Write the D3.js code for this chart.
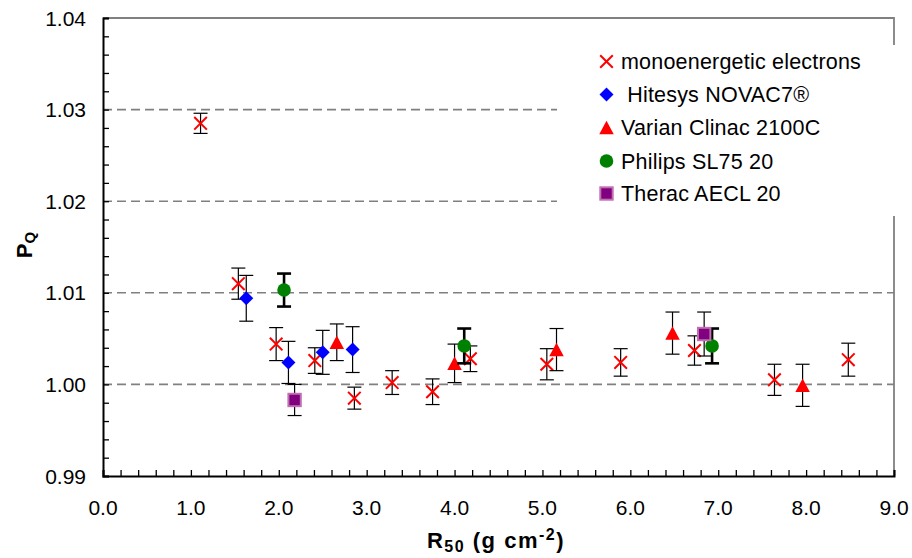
<!DOCTYPE html>
<html>
<head>
<meta charset="utf-8">
<script src="https://cdn.jsdelivr.net/npm/d3@7"></script>
<style>
  body { margin: 0; background: #fff; }
  text { font-family: "Liberation Sans", Arial, sans-serif; fill: #000; }
</style>
</head>
<body>
<svg id="chart"></svg>
<script>
// Data
const monoX = [1.11, 1.54, 1.97, 2.41, 2.86, 3.29, 3.75, 4.18, 5.05, 5.89, 6.73, 7.64, 8.48];
const monoY = [1.0285, 1.0110, 1.0044, 1.0026, 0.9985, 1.0002, 0.9992, 1.0028, 1.0022, 1.0024, 1.0037, 1.0005, 1.0027];
const monoErr = [0.0011, 0.0017, 0.0018, 0.0014, 0.0012, 0.0013, 0.0014, 0.0014, 0.0017, 0.0015, 0.0016, 0.0017, 0.0018];

const hitesysX = [1.63, 2.11, 2.50, 2.84];
const hitesysY = [1.0094, 1.0024, 1.0035, 1.0038];
const hitesysErr = [0.0025, 0.0023, 0.0024, 0.0025];

const varianX = [2.66, 4.00, 5.16, 6.48, 7.96];
const varianY = [1.0046, 1.0023, 1.0038, 1.0056, 0.9999];
const varianErr = [0.0020, 0.0021, 0.0023, 0.0023, 0.0023];

const philipsX = [2.06, 4.11, 6.93];
const philipsY = [1.0103, 1.0042, 1.0042];
const philipsErr = [0.0018, 0.0019, 0.0019];

const theracX = [2.18, 6.84];
const theracY = [0.9983, 1.0055];
const theracErr = [0.0017, 0.0024];

const legendLabels = ["monoenergetic electrons", " Hitesys NOVAC7\u00AE", "Varian Clinac 2100C", "Philips SL75 20", "Therac AECL 20"];
const xTicks = [0, 1, 2, 3, 4, 5, 6, 7, 8, 9];
const yTicks = [0.99, 1.00, 1.01, 1.02, 1.03, 1.04];
const gridValues = [1.00, 1.01, 1.02, 1.03];

const width = 912, height = 558;
const svg = d3.select("#chart").attr("width", width).attr("height", height);

const x = d3.scaleLinear().domain([0, 9]).range([103, 894]);
const y = d3.scaleLinear().domain([0.99, 1.04]).range([476, 18]);

// dashed gridlines
svg.append("g")
  .selectAll("line")
  .data(gridValues)
  .join("line")
  .attr("x1", x(0))
  .attr("x2", x(9))
  .attr("y1", (d) => y(d))
  .attr("y2", (d) => y(d))
  .attr("stroke", "#808080")
  .attr("stroke-width", 1.6)
  .attr("stroke-dasharray", "9,5");

// top / right frame
svg.append("path")
  .attr("d", `M${x(0)},${y(1.04)}H${x(9)}V${y(0.99)}`)
  .attr("fill", "none")
  .attr("stroke", "#808080")
  .attr("stroke-width", 1.8);

// axes with inward ticks
const xAxis = svg.append("g")
  .attr("transform", `translate(0,${y(0.99)})`)
  .call(d3.axisBottom(x).tickValues(d3.range(0, 9.001, 0.2)).tickSize(-6).tickFormat(""));
const yAxis = svg.append("g")
  .attr("transform", `translate(${x(0)},0)`)
  .call(d3.axisLeft(y).tickValues(d3.range(0.99, 1.0401, 0.002)).tickSize(-6).tickFormat(""));
[xAxis, yAxis].forEach((g) => {
  g.select(".domain").attr("stroke", "#000").attr("stroke-width", 2);
  g.selectAll(".tick line").attr("stroke", "#000").attr("stroke-width", 1.3);
});

// tick labels
svg.append("g")
  .selectAll("text")
  .data(xTicks)
  .join("text")
  .attr("x", (d) => x(d))
  .attr("y", 515)
  .attr("text-anchor", "middle")
  .attr("font-size", 21)
  .text((d) => d3.format(".1f")(d));

svg.append("g")
  .selectAll("text")
  .data(yTicks)
  .join("text")
  .attr("x", 86)
  .attr("y", (d) => y(d))
  .attr("dy", "0.36em")
  .attr("text-anchor", "end")
  .attr("font-size", 21)
  .text((d) => d3.format(".2f")(d));

// axis titles
const xt = svg.append("text")
  .attr("x", 496)
  .attr("y", 548)
  .attr("text-anchor", "middle")
  .attr("font-size", 22)
  .attr("font-weight", "bold")
  .attr("letter-spacing", 1.5);
xt.append("tspan").text("R");
xt.append("tspan").attr("font-size", 16).attr("dy", 4).text("50");
xt.append("tspan").attr("dy", -4).text(" (g cm");
xt.append("tspan").attr("font-size", 16).attr("dy", -8).text("-2");
xt.append("tspan").attr("dy", 8).text(")");

const yt = svg.append("text")
  .attr("transform", "translate(32,245) rotate(-90)")
  .attr("text-anchor", "middle")
  .attr("font-size", 22)
  .attr("font-weight", "bold");
yt.append("tspan").text("P");
yt.append("tspan").attr("font-size", 15).attr("dy", 3).text("Q");

// marker drawing
function triPath(w, h) {
  return `M0,${-h / 2}L${w / 2},${h / 2}L${-w / 2},${h / 2}Z`;
}
function drawMarker(g, type) {
  if (type === "cross") {
    g.append("path").attr("d", "M-6.3,-6.3L6.3,6.3M-6.3,6.3L6.3,-6.3")
      .attr("stroke", "#ff0000").attr("stroke-width", 2).attr("fill", "none");
  } else if (type === "diamond") {
    g.append("path").attr("d", "M0,-7L7,0L0,7L-7,0Z").attr("fill", "#0000ff");
  } else if (type === "triangle") {
    g.append("path").attr("d", triPath(14.5, 13.5)).attr("fill", "#ff0000");
  } else if (type === "circle") {
    g.append("circle").attr("r", 6.8).attr("fill", "#008000");
  } else if (type === "square") {
    g.append("rect").attr("x", -6.2).attr("y", -6.2).attr("width", 12.4).attr("height", 12.4)
      .attr("fill", "#800080").attr("stroke", "#c070b0").attr("stroke-width", 2);
  }
}

const series = [
  { xs: monoX, ys: monoY, errs: monoErr, type: "cross", ew: 1.2 },
  { xs: hitesysX, ys: hitesysY, errs: hitesysErr, type: "diamond", ew: 1.2 },
  { xs: varianX, ys: varianY, errs: varianErr, type: "triangle", ew: 1.2 },
  { xs: philipsX, ys: philipsY, errs: philipsErr, type: "circle", ew: 2.6 },
  { xs: theracX, ys: theracY, errs: theracErr, type: "square", ew: 1.2 }
];

series.forEach((s) => {
  const pts = s.xs.map((v, i) => ({ x: v, y: s.ys[i], e: s.errs[i] }));
  const g = svg.append("g");
  const eb = g.selectAll("g.err").data(pts).join("g").attr("class", "err")
    .attr("stroke", "#000").attr("stroke-width", s.ew);
  eb.append("line")
    .attr("x1", (d) => x(d.x)).attr("x2", (d) => x(d.x))
    .attr("y1", (d) => y(d.y + d.e)).attr("y2", (d) => y(d.y - d.e));
  eb.append("line")
    .attr("x1", (d) => x(d.x) - 7).attr("x2", (d) => x(d.x) + 7)
    .attr("y1", (d) => y(d.y + d.e)).attr("y2", (d) => y(d.y + d.e));
  eb.append("line")
    .attr("x1", (d) => x(d.x) - 7).attr("x2", (d) => x(d.x) + 7)
    .attr("y1", (d) => y(d.y - d.e)).attr("y2", (d) => y(d.y - d.e));
  g.selectAll("g.mk").data(pts).join("g").attr("class", "mk")
    .attr("transform", (d) => `translate(${x(d.x)},${y(d.y)})`)
    .each(function () { drawMarker(d3.select(this), s.type); });
});

// legend
const legend = svg.append("g");
legend.append("rect")
  .attr("x", 557).attr("y", 45).attr("width", 350).attr("height", 171)
  .attr("fill", "#fff");
const rowY = [61.5, 94.5, 127.5, 161, 193.5];
series.forEach((s, i) => {
  const row = legend.append("g").attr("transform", `translate(606.5,${rowY[i]})`);
  drawMarker(row, s.type);
  row.append("text")
    .attr("x", 14.5)
    .attr("dy", "0.35em")
    .attr("font-size", 21.5)
    .attr("letter-spacing", 0.2)
    .style("white-space", "pre")
    .text(legendLabels[i]);
});
</script>
</body>
</html>
